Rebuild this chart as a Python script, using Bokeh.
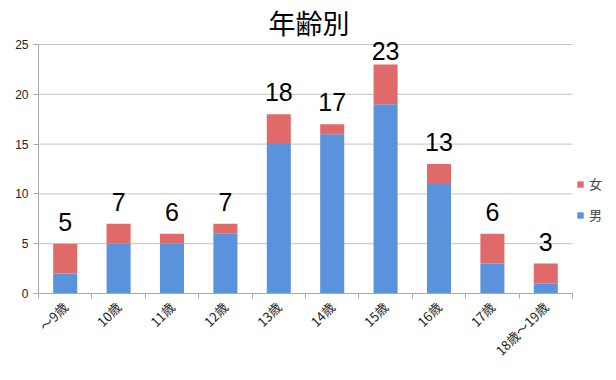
import numpy as np
from bokeh.plotting import figure
from bokeh.models import ColumnDataSource, Range1d, FixedTicker, Legend, LegendItem
from bokeh.core.properties import value
from bokeh.embed import file_html
from bokeh.resources import INLINE

categories = ["〜9歳", "10歳", "11歳", "12歳", "13歳", "14歳", "15歳", "16歳", "17歳", "18歳〜19歳"]
male = [2, 5, 5, 6, 15, 16, 19, 11, 3, 1]
female = [3, 2, 1, 1, 3, 1, 4, 2, 3, 2]
y_ticks = [0, 5, 10, 15, 20, 25]

FONT = "Noto Sans CJK JP"
NUM_FONT = "Liberation Sans"
BLUE = "#5b92dc"
RED = "#e06a6a"
GRID = "#c4c4c4"
AXIS = "#a8a8a8"

n = len(categories)
Y_MAX = 25
PX_PER_UNIT = 249 / Y_MAX          # 25 units over 249 px
FRAME_H = 252                        # a little headroom above the top gridline
Y_END = FRAME_H / PX_PER_UNIT
LABEL_GAP = 11                       # px between bar top and digits
DIGIT_H = 18
BASELINE_FIX = 11                    # rendered digits sit this far below the anchor

xs = [i + 0.5 for i in range(n)]
totals = [m + f for m, f in zip(male, female)]
label_y = []
for t in totals:
    room = (Y_END - t) * PX_PER_UNIT - DIGIT_H - 2
    gap = min(LABEL_GAP, room)
    label_y.append(t + (gap + BASELINE_FIX) / PX_PER_UNIT)
src = ColumnDataSource(dict(x=xs, male=male, female=female, total=totals,
                            total_text=[str(t) for t in totals], label_y=label_y))

# frame extends under the legend; categories occupy the left 534 of 578 px
p = figure(frame_width=578, frame_height=FRAME_H, x_range=Range1d(0, n * 578 / 534),
           y_range=Range1d(0, Y_END),
           output_backend="svg", toolbar_location=None,
           min_border_left=38, min_border_right=0, min_border_top=0, min_border_bottom=87)
p.outline_line_color = None
p.background_fill_color = "white"

p.ygrid.grid_line_color = None
p.xgrid.grid_line_color = None
p.segment(x0=[0] * len(y_ticks), x1=[n] * len(y_ticks), y0=y_ticks, y1=y_ticks,
          line_color=GRID, line_width=1, level="underlay")

r = p.vbar_stack(["male", "female"], x="x", width=0.45, color=[BLUE, RED], source=src, line_color=None)

p.text(x="x", y="label_y", text="total_text", source=src, text_font=value(NUM_FONT),
       text_font_size="25px", text_align="center", text_baseline="alphabetic",
       text_color="black")

p.title.text = "年齢別"
p.title.align = "left"
p.title.offset = 230
p.title.text_font = FONT
p.title.text_font_size = "27px"
p.title.text_font_style = "normal"
p.title.text_color = "black"
p.title.standoff = 0

p.yaxis.ticker = FixedTicker(ticks=y_ticks)
p.yaxis.bounds = (0, Y_MAX)
p.yaxis.axis_line_color = AXIS
p.yaxis.major_tick_line_color = AXIS
p.yaxis.major_tick_in = 0
p.yaxis.major_tick_out = 5
p.yaxis.minor_tick_line_color = None
p.yaxis.major_label_text_font = "Liberation Sans"
p.yaxis.major_label_text_font_size = "12px"
p.yaxis.major_label_text_color = "#222222"

p.xaxis.ticker = FixedTicker(ticks=xs, minor_ticks=list(range(n + 1)))
p.xaxis.bounds = (0, n)
p.xaxis.major_label_overrides = {x: c for x, c in zip(xs, categories)}
p.xaxis.axis_line_color = AXIS
p.xaxis.major_tick_line_color = None
p.xaxis.minor_tick_line_color = AXIS
p.xaxis.minor_tick_in = 0
p.xaxis.minor_tick_out = 5
p.xaxis.major_label_orientation = np.pi / 4
p.xaxis.major_label_text_font = FONT
p.xaxis.major_label_text_font_size = "13px"
p.xaxis.major_label_text_color = "#222222"

legend = Legend(items=[LegendItem(label="女", renderers=[r[1]]),
                       LegendItem(label="男", renderers=[r[0]])],
                location=(538, 69), border_line_color=None, background_fill_alpha=0,
                glyph_width=8, glyph_height=8, label_text_font=FONT, label_text_font_size="13px",
                spacing=12, padding=2, margin=0, label_standoff=5, label_height=14)
p.add_layout(legend)

open("out.html", "w").write(file_html(p, INLINE))
